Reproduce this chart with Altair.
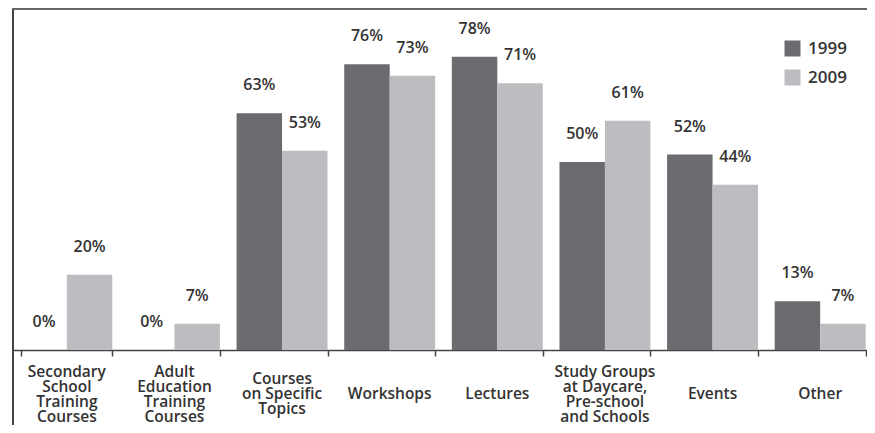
import altair as alt
import pandas as pd

categories = [
    "Secondary\nSchool\nTraining\nCourses",
    "Adult\nEducation\nTraining\nCourses",
    "Courses\non Specific\nTopics",
    "Workshops",
    "Lectures",
    "Study Groups\nat Daycare,\nPre-school\nand Schools",
    "Events",
    "Other",
]
series = ["1999", "2009"]
values_1999 = [0, 0, 63, 76, 78, 50, 52, 13]
values_2009 = [20, 7, 53, 73, 71, 61, 44, 7]

rows = []
for c, a, b in zip(categories, values_1999, values_2009):
    rows.append({"category": c, "year": "1999", "value": a, "label": f"{a}%"})
    rows.append({"category": c, "year": "2009", "value": b, "label": f"{b}%"})
df = pd.DataFrame(rows)

# one row per line of each category label, centred on the block
label_rows = []
for c in categories:
    parts = c.split("\n")
    n = len(parts)
    for i, p in enumerate(parts):
        label_rows.append({"category": c, "line": p, "pos": i - (n - 1) / 2})
labels_df = pd.DataFrame(label_rows)

W, H = 861, 342
FONT = "Open Sans"

x = alt.X("category:N", sort=categories, title=None,
          scale=alt.Scale(paddingInner=0.155, paddingOuter=0.0775),
          axis=alt.Axis(labels=False, tickBand="extent", tickSize=6,
                        tickColor="#444", domainColor="#444", domainWidth=1.5,
                        tickWidth=1.5))
y = alt.Y("value:Q", scale=alt.Scale(domain=[0, 91]), axis=None)
color = alt.Color("year:N", scale=alt.Scale(domain=series, range=["#6b6c70", "#bcbdc1"]),
                  legend=alt.Legend(title=None, orient="none", legendX=771, legendY=32,
                                    symbolType="square", symbolSize=256,
                                    symbolStrokeWidth=0, labelFontSize=17,
                                    labelFont=FONT, labelFontWeight=600,
                                    labelColor="#333", labelOffset=7, rowPadding=11))

bars = alt.Chart(df).mark_bar().encode(
    x=x, y=y, color=color,
    xOffset=alt.XOffset("year:N", sort=series, scale=alt.Scale(paddingInner=0, paddingOuter=0)))
text = alt.Chart(df).mark_text(baseline="middle", dy=-28, fontSize=16, font=FONT,
                               fontWeight=600, color="#333").encode(
    x=alt.X("category:N", sort=categories),
    xOffset=alt.XOffset("year:N", sort=series),
    y=y, text="label:N")

axis_labels = alt.Chart(labels_df).mark_text(baseline="middle", fontSize=15.5, font=FONT,
                                             fontWeight=600, color="#333").encode(
    x=alt.X("category:N", sort=categories),
    y=alt.Y("pos:Q", scale=alt.Scale(domain=[-1.5, 1.5], range=[363.5, 408.5]), axis=None),
    text="line:N")

frame_data = alt.Data(values=[{"a": 1}])
left_line = alt.Chart(frame_data).mark_rect(color="#444").encode(
    x=alt.value(-1), x2=alt.value(1), y=alt.value(0), y2=alt.value(H + 80))
top_line = alt.Chart(frame_data).mark_rect(color="#666").encode(
    x=alt.value(-1), x2=alt.value(W + 20), y=alt.value(0), y2=alt.value(2))

chart = alt.layer(bars, text, axis_labels, left_line, top_line).resolve_scale(
    y="independent"
).properties(
    width=W, height=H,
    autosize=alt.AutoSizeParams(type="none"),
    padding={"left": 5, "top": 0, "right": -7, "bottom": 75},
).configure_view(stroke=None)

chart.save("out.html", embed_options={"renderer": "svg", "actions": False})
